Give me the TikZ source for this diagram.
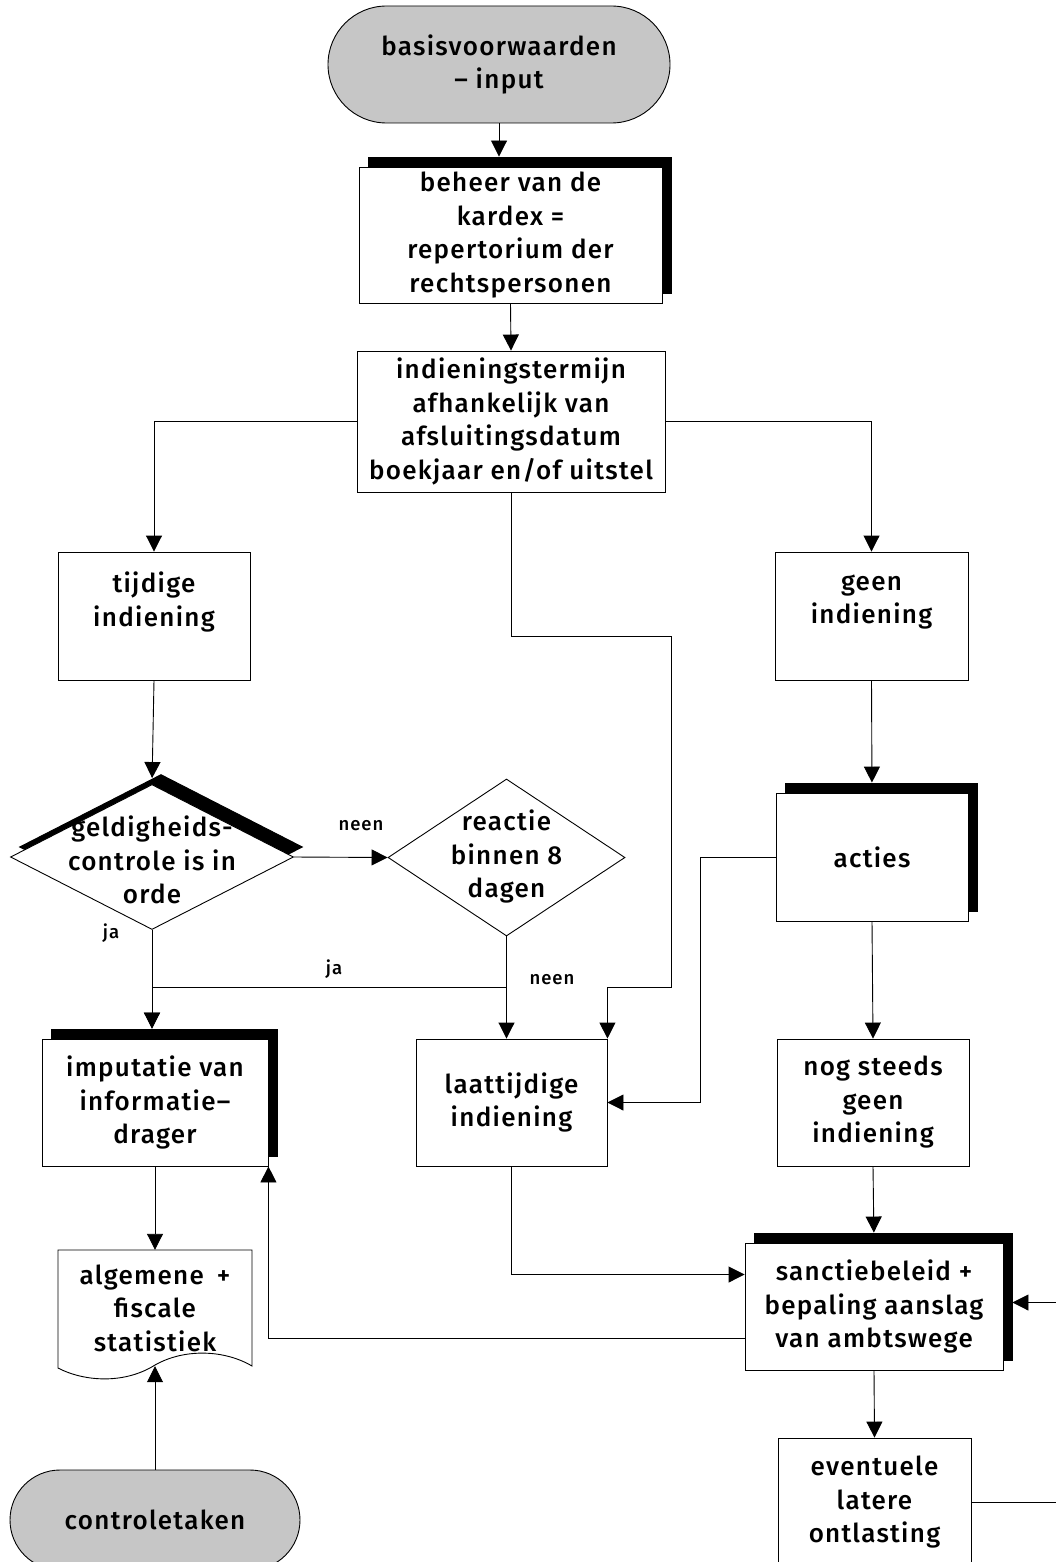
\documentclass[tikz,border=0pt]{standalone}
\usepackage{fontspec}
\setmainfont{Fira Sans}[UprightFont=* Medium, LetterSpace=5]
\usetikzlibrary{shapes.geometric, shapes.misc, shadows, arrows.meta}

\begin{document}
\begin{tikzpicture}[x=1pt, y=-1pt,
  every node/.style={font=\fontsize{26}{33.5}\selectfont, align=center, inner sep=0pt},
  box/.style={draw, fill=white, line width=0.9pt},
  heavy/.style={copy shadow={shadow xshift=9pt, shadow yshift=10pt, fill=black, draw=black}},
  term/.style={rounded rectangle, draw, fill=gray!45, line width=0.9pt},
  choice/.style={diamond, draw, fill=white, line width=0.9pt},
  lbl/.style={font=\fontsize{18.5}{20}\selectfont},
  arr/.style={line width=0.9pt, -{Triangle[length=16pt, width=16pt]}}]

  \useasboundingbox (0,0) rectangle (1055,1562);

  % Terminals
  \node[term, minimum width=342, minimum height=117] (basis) at (499,64.5) {basisvoorwaarden\\– input};
  \node[term, minimum width=290, minimum height=100] (ctrl) at (155,1520) {controletaken};

  % Process boxes
  \node[box, heavy, minimum width=303, minimum height=136] (kardex) at (510.5,235)
    {beheer van de\\kardex =\\repertorium der\\rechtspersonen};
  \node[box, minimum width=308, minimum height=141] (termijn) at (511,421.5)
    {indieningstermijn\\afhankelijk van\\afsluitingsdatum\\boekjaar en/of uitstel};
  \node[box, minimum width=192, minimum height=128] (tijdig) at (154,616) {tijdige\\indiening\\~};
  \node[box, minimum width=193, minimum height=128] (geen) at (871.5,616) {geen\\indiening\\~};
  \node[box, heavy, minimum width=192, minimum height=128] (acties) at (872,857) {acties};
  \node[box, heavy, minimum width=226, minimum height=127] (imput) at (155,1102.5)
    {imputatie van\\informatie–\\drager};
  \node[box, minimum width=191, minimum height=127] (laat) at (511.5,1102.5) {laattijdige\\indiening};
  \node[box, minimum width=192, minimum height=127] (nog) at (873,1102.5) {nog steeds\\geen\\indiening};
  \node[box, heavy, minimum width=258, minimum height=127] (sanctie) at (874,1306.5)
    {sanctiebeleid +\\bepaling aanslag\\van ambtswege};
  \node[box, minimum width=193, minimum height=128] (event) at (874.5,1502) {eventuele\\latere\\ontlasting};

  % Decisions
  \node[choice, heavy, minimum width=283, minimum height=145] (geldig) at (152,857) {};
  \node (geldigtxt) at (152,860) {geldigheids-\\controle is in\\orde};
  \node[choice, minimum width=237, minimum height=157] (reactie) at (506.5,857.5) {};
  \node (reactietxt) at (506.5,856.5) {reactie\\binnen 8\\dagen};

  % Document
  \draw[line width=0.9pt, fill=white] (58,1250) -- (252,1250) -- (252,1366)
    .. controls (225,1350) and (185,1348) .. (155,1365)
    .. controls (125,1384) and (85,1382) .. (58,1368) -- cycle;
  \node[minimum width=194, minimum height=116] (stat) at (155,1308) {algemene\enspace +\\fiscale\\statistiek};

  % Bends
  \coordinate (bendA) at (671,636);
  \coordinate (bendB) at (671,987);
  \coordinate (jaC) at (506.5,987);
  \coordinate (bendD) at (700,857);
  \coordinate (rim) at (1060,1502);

  % Connectors
  \draw[arr, shorten >=10pt] (basis.south) -- (basis.south |- kardex.north);
  \draw[arr] (kardex.south) -- (termijn.north);
  \draw[arr] (termijn.west) -| (tijdig.north);
  \draw[arr] (termijn.east) -| (geen.north);
  \draw[arr] (termijn.south) |- (bendA) -- (bendB) -| (laat.north east);
  \draw[arr, shorten >=6pt] (tijdig.south) -- (geldig.north);
  \draw[arr] (geldig.east) -- (reactie.west);
  \draw[arr, shorten >=10pt] (geldig.south) -- (geldig.south |- imput.north);
  \draw[arr, shorten >=10pt] (reactie.south) -- (jaC) -| (geldig.south |- imput.north);
  \draw[arr] (reactie.south) -- (reactie.south |- laat.north);
  \draw[arr, shorten >=10pt] (geen.south) -- (acties.north);
  \draw[arr] (acties.west) -- (bendD) |- (laat.east);
  \draw[arr] (acties.south) -- (nog.north);
  \draw[arr, shorten >=10pt] (nog.south) -- (sanctie.north);
  \draw[arr] (laat.south) |- ([yshift=32pt]sanctie.west);
  \draw[arr] ([yshift=-32pt]sanctie.west) -| (imput.south east);
  \draw[arr] (imput.south) -- (stat.north);
  \draw[arr] (ctrl.north) -- (stat.south);
  \draw[arr] (sanctie.south) -- (event.north);
  \draw[arr, shorten >=9pt] (event.east) -- (rim) |- ([yshift=4pt]sanctie.east);

  % Labels
  \node[lbl] (neenA) at (361,826) {neen};
  \node[lbl] (jaA) at (111,933) {ja};
  \node[lbl] (jaB) at (334,969) {ja};
  \node[lbl] (neenB) at (552,980) {neen};

\end{tikzpicture}
\end{document}
